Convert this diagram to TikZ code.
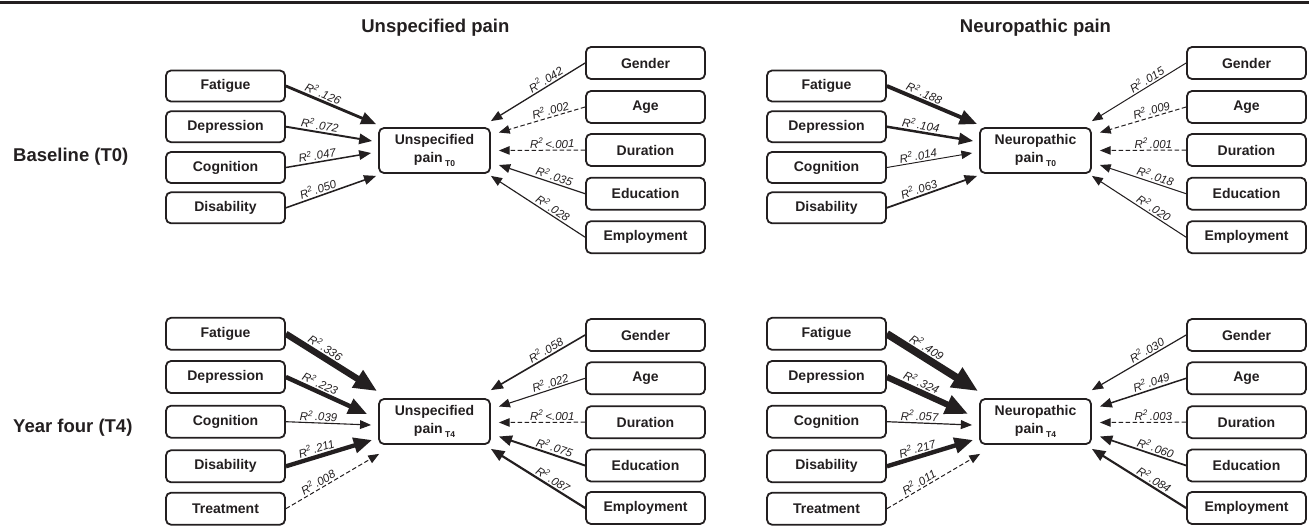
\documentclass[tikz,border=0pt]{standalone}
\usepackage{fontspec}
\setmainfont{Liberation Sans}
\usetikzlibrary{arrows.meta,calc}
\definecolor{ink}{HTML}{231F20}
\newcommand\rsq[1]{R\textsuperscript{2}\,#1}
\newcommand\tsub[1]{\,\raisebox{-0.45ex}{\fontsize{8.5}{9}\selectfont #1}}
\newcommand\tipsA[1]{%
 \coordinate (#1-F) at ($(#1.north west)+(-2,-3)$);
 \coordinate (#1-D) at ($(#1.west)+(-6,-9.5)$);
 \coordinate (#1-C) at ($(#1.west)+(-7,2.5)$);
 \coordinate (#1-Di) at ($(#1.south west)+(-2,2)$);
 \coordinate (#1-G) at ($(#1.north east)+(0,-6)$);
 \coordinate (#1-A) at ($(#1.east)+(8,-18)$);
 \coordinate (#1-Du) at ($(#1.east)+(8,0)$);
 \coordinate (#1-E) at ($(#1.east)+(8,14.5)$);
 \coordinate (#1-Em) at ($(#1.south east)+(0,2)$);}
\newcommand\tipsB[1]{%
 \coordinate (#1-F) at ($(#1.north west)+(-1,-7)$);
 \coordinate (#1-D) at ($(#1.west)+(-11,-7.5)$);
 \coordinate (#1-C) at ($(#1.west)+(-7,3.5)$);
 \coordinate (#1-Di) at ($(#1.west)+(-6,18.5)$);
 \coordinate (#1-T) at ($(#1.south west)+(1,9)$);
 \coordinate (#1-G) at ($(#1.north east)+(0,-8)$);
 \coordinate (#1-A) at ($(#1.east)+(8,-15)$);
 \coordinate (#1-Du) at ($(#1.east)+(8,1)$);
 \coordinate (#1-E) at ($(#1.east)+(8,15)$);
 \coordinate (#1-Em) at ($(#1.south east)+(0,4)$);}
\begin{document}
\begin{tikzpicture}[x=1pt,y=-1pt,
  box/.style={draw=ink, line width=1.8pt, rounded corners=5pt, minimum width=119pt,
    minimum height=31pt, inner sep=0pt, text=ink, font=\fontsize{14}{15}\selectfont\bfseries},
  lbox/.style={box},
  rbox/.style={box, minimum height=32pt},
  cbox/.style={box, minimum width=111pt, minimum height=45pt, align=center,
    font=\fontsize{14}{18}\selectfont\bfseries},
  lnk/.style={draw=ink, line width=#1, -{Triangle[length=8.5pt 2.3, width=6.5pt 2]}},
  dsh/.style={lnk=1pt, dash pattern=on 4.5pt off 2.5pt},
  lab/.style={sloped, above, pos=0.38, inner sep=1.5pt, text=ink,
    font=\fontsize{11.5}{12}\selectfont\itshape},
  ttl/.style={text=ink, font=\fontsize{18.5}{20}\selectfont\bfseries, inner sep=0pt}]
\useasboundingbox (0,0) rectangle (1309,525);
\draw[line width=3pt, ink] (0,2) -- (1309,2);

\node[ttl, anchor=base] (t1) at (435.4,32.7) {Unspecified pain};
\node[ttl, anchor=base] (t2) at (1035.5,32.7) {Neuropathic pain};
\node[ttl, anchor=base west] (r1) at (13,161.7) {Baseline (T0)};
\node[ttl, anchor=base west] (r2) at (13,432.7) {Year four (T4)};

% ---------- T0 unspecified
\node[cbox] (u0) at (434.5,150.5) {Unspecified\\pain\tsub{T0}};
\node[lbox] (u0fat) at (225.5,86) {Fatigue};
\node[lbox] (u0dep) at (225.5,126.7) {Depression};
\node[lbox] (u0cog) at (225.5,167.5) {Cognition};
\node[lbox] (u0dis) at (225.5,207.8) {Disability};
\node[rbox] (u0gen) at (645.5,63) {Gender};
\node[rbox] (u0age) at (645.5,107) {Age};
\node[rbox] (u0dur) at (645.5,150) {Duration};
\node[rbox] (u0edu) at (645.5,193.7) {Education};
\node[rbox] (u0emp) at (645.5,237.2) {Employment};
\tipsA{u0}
\draw[lnk=2.84pt] (u0fat.east) -- node[lab]{\rsq{.126}} (u0-F);
\draw[lnk=1.92pt] (u0dep.east) -- node[lab]{\rsq{.072}} (u0-D);
\draw[lnk=1.5pt] (u0cog.east) -- node[lab]{\rsq{.047}} (u0-C);
\draw[lnk=1.55pt] (u0dis.east) -- node[lab]{\rsq{.050}} (u0-Di);
\draw[lnk=1.3pt] (u0gen.west) -- node[lab]{\rsq{.042}} (u0-G);
\draw[dsh] (u0age.west) -- node[lab]{\rsq{.002}} (u0-A);
\draw[dsh] (u0dur.west) -- node[lab]{\rsq{<.001}} (u0-Du);
\draw[lnk=1.2pt] (u0edu.west) -- node[lab]{\rsq{.035}} (u0-E);
\draw[lnk=1.15pt] (u0emp.west) -- node[lab]{\rsq{.028}} (u0-Em);

% ---------- T0 neuropathic
\node[cbox] (n0) at (1035.5,150.5) {Neuropathic\\pain\tsub{T0}};
\node[lbox] (n0fat) at (826.5,86) {Fatigue};
\node[lbox] (n0dep) at (826.5,126.7) {Depression};
\node[lbox] (n0cog) at (826.5,167.5) {Cognition};
\node[lbox] (n0dis) at (826.5,207.8) {Disability};
\node[rbox] (n0gen) at (1246.5,63) {Gender};
\node[rbox] (n0age) at (1246.5,107) {Age};
\node[rbox] (n0dur) at (1246.5,150) {Duration};
\node[rbox] (n0edu) at (1246.5,193.7) {Education};
\node[rbox] (n0emp) at (1246.5,237.2) {Employment};
\tipsA{n0}
\draw[lnk=3.9pt] (n0fat.east) -- node[lab]{\rsq{.188}} (n0-F);
\draw[lnk=2.47pt] (n0dep.east) -- node[lab]{\rsq{.104}} (n0-D);
\draw[lnk=0.95pt] (n0cog.east) -- node[lab]{\rsq{.014}} (n0-C);
\draw[lnk=1.77pt] (n0dis.east) -- node[lab]{\rsq{.063}} (n0-Di);
\draw[lnk=1pt] (n0gen.west) -- node[lab]{\rsq{.015}} (n0-G);
\draw[dsh] (n0age.west) -- node[lab]{\rsq{.009}} (n0-A);
\draw[dsh] (n0dur.west) -- node[lab]{\rsq{.001}} (n0-Du);
\draw[lnk=1pt] (n0edu.west) -- node[lab]{\rsq{.018}} (n0-E);
\draw[lnk=1.05pt] (n0emp.west) -- node[lab]{\rsq{.020}} (n0-Em);

% ---------- T4 unspecified
\node[cbox] (u4) at (434.5,421.5) {Unspecified\\pain\tsub{T4}};
\node[rbox] (u4fat) at (225.5,333.8) {Fatigue};
\node[rbox] (u4dep) at (225.5,377) {Depression};
\node[rbox] (u4cog) at (225.5,421.7) {Cognition};
\node[rbox] (u4dis) at (225.5,466.3) {Disability};
\node[rbox] (u4tre) at (225.5,508.7) {Treatment};
\node[rbox] (u4gen) at (645.5,335) {Gender};
\node[rbox] (u4age) at (645.5,378.3) {Age};
\node[rbox] (u4dur) at (645.5,422.2) {Duration};
\node[rbox] (u4edu) at (645.5,465.5) {Education};
\node[rbox] (u4emp) at (645.5,508) {Employment};
\tipsB{u4}
\draw[lnk=6.4pt] (u4fat.east) -- node[lab]{\rsq{.336}} (u4-F);
\draw[lnk=4.5pt] (u4dep.east) -- node[lab]{\rsq{.223}} (u4-D);
\draw[lnk=1.1pt] (u4cog.east) -- node[lab]{\rsq{.039}} (u4-C);
\draw[lnk=4.3pt] (u4dis.east) -- node[lab]{\rsq{.211}} (u4-Di);
\draw[dsh] (u4tre.east) -- node[lab]{\rsq{.008}} (u4-T);
\draw[lnk=1.6pt] (u4gen.west) -- node[lab]{\rsq{.058}} (u4-G);
\draw[lnk=1.1pt] (u4age.west) -- node[lab]{\rsq{.022}} (u4-A);
\draw[dsh] (u4dur.west) -- node[lab]{\rsq{<.001}} (u4-Du);
\draw[lnk=1.98pt] (u4edu.west) -- node[lab]{\rsq{.075}} (u4-E);
\draw[lnk=2.18pt] (u4emp.west) -- node[lab]{\rsq{.087}} (u4-Em);

% ---------- T4 neuropathic
\node[cbox] (n4) at (1035.5,421.5) {Neuropathic\\pain\tsub{T4}};
\node[rbox] (n4fat) at (826.5,333.8) {Fatigue};
\node[rbox] (n4dep) at (826.5,377) {Depression};
\node[rbox] (n4cog) at (826.5,421.7) {Cognition};
\node[rbox] (n4dis) at (826.5,466.3) {Disability};
\node[rbox] (n4tre) at (826.5,508.7) {Treatment};
\node[rbox] (n4gen) at (1246.5,335) {Gender};
\node[rbox] (n4age) at (1246.5,378.3) {Age};
\node[rbox] (n4dur) at (1246.5,422.2) {Duration};
\node[rbox] (n4edu) at (1246.5,465.5) {Education};
\node[rbox] (n4emp) at (1246.5,508) {Employment};
\tipsB{n4}
\draw[lnk=7.6pt] (n4fat.east) -- node[lab]{\rsq{.409}} (n4-F);
\draw[lnk=6.2pt] (n4dep.east) -- node[lab]{\rsq{.324}} (n4-D);
\draw[lnk=1.2pt] (n4cog.east) -- node[lab]{\rsq{.057}} (n4-C);
\draw[lnk=4.4pt] (n4dis.east) -- node[lab]{\rsq{.217}} (n4-Di);
\draw[dsh] (n4tre.east) -- node[lab]{\rsq{.011}} (n4-T);
\draw[lnk=1.2pt] (n4gen.west) -- node[lab]{\rsq{.030}} (n4-G);
\draw[lnk=1.5pt] (n4age.west) -- node[lab]{\rsq{.049}} (n4-A);
\draw[dsh] (n4dur.west) -- node[lab]{\rsq{.003}} (n4-Du);
\draw[lnk=1.72pt] (n4edu.west) -- node[lab]{\rsq{.060}} (n4-E);
\draw[lnk=2.13pt] (n4emp.west) -- node[lab]{\rsq{.084}} (n4-Em);
\end{tikzpicture}
\end{document}
